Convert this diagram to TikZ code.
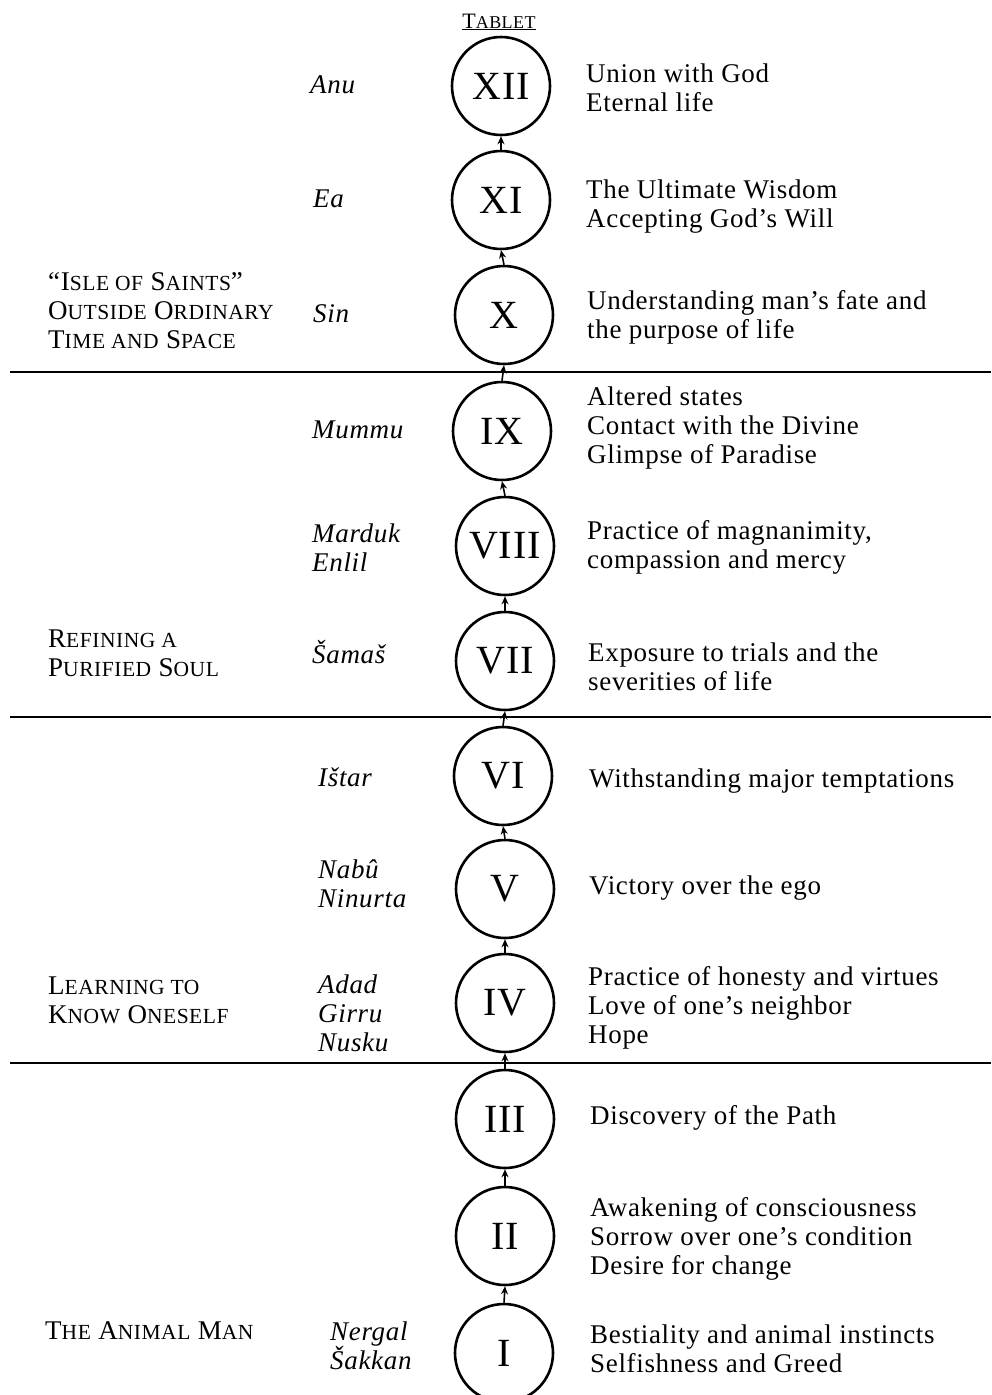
\documentclass[tikz,border=0pt]{standalone}
\usepackage{fontspec}
\setmainfont{Liberation Serif}[LetterSpace=2.5]
\usetikzlibrary{arrows.meta}
\newcommand\mysc[1]{{\fontsize{21.5}{29}\selectfont #1}}
\begin{document}
\begin{tikzpicture}[x=1pt,y=-1pt,
  tabcirc/.style={circle, draw, line width=2.6pt, minimum size=98pt, inner sep=0pt, font=\fontsize{40}{40}\selectfont},
  desc/.style={anchor=west, align=left, inner sep=0pt, font=\fontsize{27}{29}\selectfont},
  god/.style={anchor=west, align=left, inner sep=0pt, font=\fontsize{27}{29}\selectfont\itshape},
  stage/.style={anchor=west, align=left, inner sep=0pt, font=\fontsize{27}{29}\selectfont},
  upar/.style={-{Stealth[length=8pt,width=7pt]}, line width=1.6pt},
  sepline/.style={line width=1.3pt}]
\useasboundingbox (0,0) rectangle (991,1395);
% title
\node[inner sep=0pt, anchor=base] (tablet) at (499,28) {\fontsize{22}{22}\selectfont\underline{T{\fontsize{18}{22}\selectfont ABLET}}};
% circles
\node[tabcirc] (c12) at (501,86) {XII};
\node[tabcirc] (c11) at (501,200) {XI};
\node[tabcirc] (c10) at (504,315) {X};
\node[tabcirc] (c9) at (502,431) {IX};
\node[tabcirc] (c8) at (505,546) {VIII};
\node[tabcirc] (c7) at (505,661) {VII};
\node[tabcirc] (c6) at (503,776) {VI};
\node[tabcirc] (c5) at (505,889) {V};
\node[tabcirc] (c4) at (505,1003) {IV};
\node[tabcirc] (c3) at (505,1119) {III};
\node[tabcirc] (c2) at (505,1236) {II};
\node[tabcirc] (c1) at (504,1353) {I};
% arrows
\draw[upar] (c1.north) -- (c2.south);
\draw[upar] (c2.north) -- (c3.south);
\draw[upar] (c3.north) -- (c4.south);
\draw[upar] (c4.north) -- (c5.south);
\draw[upar] (c5.north) -- (c6.south);
\draw[upar] (c6.north) -- (c7.south);
\draw[upar] (c7.north) -- (c8.south);
\draw[upar] (c8.north) -- (c9.south);
\draw[upar] (c9.north) -- (c10.south);
\draw[upar] (c10.north) -- (c11.south);
\draw[upar] (c11.north) -- (c12.south);
% separator lines
\coordinate (l1a) at (10,372); \coordinate (l1b) at (991,372);
\coordinate (l2a) at (10,717); \coordinate (l2b) at (991,717);
\coordinate (l3a) at (10,1063); \coordinate (l3b) at (991,1063);
\draw[sepline] (l1a) -- (l1b);
\draw[sepline] (l2a) -- (l2b);
\draw[sepline] (l3a) -- (l3b);
% gods
\node[god] (g12) at (310,85) {Anu};
\node[god] (g11) at (313,199) {Ea};
\node[god] (g10) at (313,314) {Sin};
\node[god] (g9) at (312,430) {Mummu};
\node[god] (g8) at (312,548) {Marduk\\Enlil};
\node[god] (g7) at (312,652) {Šamaš};
\node[god] (g6) at (318,777) {Ištar};
\node[god] (g5) at (318,884) {Nabû\\Ninurta};
\node[god] (g4) at (318,1013) {Adad\\Girru\\Nusku};
\node[god] (g1) at (330,1346) {Nergal\\Šakkan};
% stages
\node[stage] (s4) at (48,311) {“I\mysc{SLE OF} S\mysc{AINTS}”\\O\mysc{UTSIDE} O\mysc{RDINARY}\\T\mysc{IME AND} S\mysc{PACE}};
\node[stage] (s3) at (48,653) {R\mysc{EFINING A}\\P\mysc{URIFIED} S\mysc{OUL}};
\node[stage] (s2) at (48,1000) {L\mysc{EARNING TO}\\K\mysc{NOW} O\mysc{NESELF}};
\node[stage] (s1) at (45,1331) {T\mysc{HE} A\mysc{NIMAL} M\mysc{AN}};
% descriptions
\node[desc] (d12) at (586,88) {Union with God\\Eternal life};
\node[desc] (d11) at (586,207) {The Ultimate Wisdom\\Accepting God’s Will};
\node[desc] (d10) at (587,317) {Understanding man’s fate and\\the purpose of life};
\node[desc] (d9) at (587,428) {Altered states\\Contact with the Divine\\Glimpse of Paradise};
\node[desc] (d8) at (587,547) {Practice of magnanimity,\\compassion and mercy};
\node[desc] (d7) at (588,667) {Exposure to trials and the\\severities of life};
\node[desc] (d6) at (589,781) {Withstanding major temptations};
\node[desc] (d5) at (589,888) {Victory over the ego};
\node[desc] (d4) at (588,1008) {Practice of honesty and virtues\\Love of one’s neighbor\\Hope};
\node[desc] (d3) at (590,1118) {Discovery of the Path};
\node[desc] (d2) at (590,1239) {Awakening of consciousness\\Sorrow over one’s condition\\Desire for change};
\node[desc] (d1) at (590,1349) {Bestiality and animal instincts\\Selfishness and Greed};
\end{tikzpicture}
\end{document}
